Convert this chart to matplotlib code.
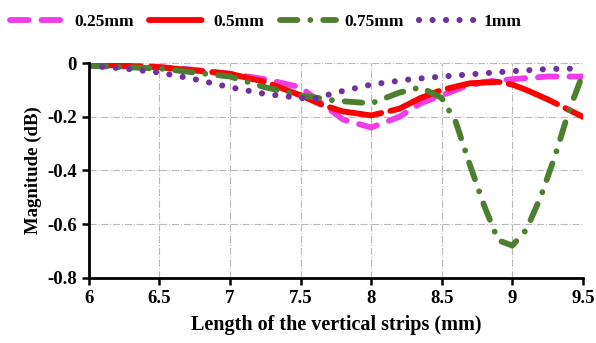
import matplotlib
matplotlib.use("Agg")
import matplotlib.pyplot as plt
from matplotlib.ticker import FuncFormatter

# data
x_025 = [6.0, 6.25, 6.5, 6.75, 7.0, 7.25, 7.5, 7.65, 7.8, 8.0, 8.2, 8.35, 8.5, 8.65, 8.8, 9.0, 9.25, 9.5]
y_025 = [-0.01, -0.012, -0.015, -0.025, -0.04, -0.06, -0.09, -0.15, -0.21, -0.24, -0.2, -0.15,
         -0.12, -0.09, -0.07, -0.06, -0.05, -0.05]

x_05 = [6.0, 6.5, 7.0, 7.25, 7.5, 7.65, 7.8, 8.0, 8.2, 8.35, 8.5, 8.7, 8.9, 9.0, 9.1, 9.25, 9.5]
y_05 = [-0.005, -0.015, -0.04, -0.07, -0.12, -0.155, -0.18, -0.195, -0.17, -0.13, -0.1,
        -0.075, -0.07, -0.08, -0.1, -0.135, -0.2]

x_075 = [6.0, 6.5, 7.0, 7.25, 7.5, 7.75, 8.0, 8.2, 8.35, 8.5, 8.6, 8.7, 8.8, 8.9, 9.0, 9.1,
         9.2, 9.3, 9.4, 9.5]
y_075 = [-0.01, -0.02, -0.05, -0.09, -0.12, -0.14, -0.15, -0.11, -0.09, -0.13, -0.22, -0.38,
         -0.53, -0.66, -0.68, -0.62, -0.5, -0.35, -0.18, -0.04]

x_1 = [6.0, 6.25, 6.5, 6.75, 7.0, 7.25, 7.5, 7.6, 7.75, 8.0, 8.25, 8.5, 8.75, 9.0, 9.25, 9.5]
y_1 = [-0.01, -0.02, -0.035, -0.06, -0.09, -0.115, -0.13, -0.132, -0.11, -0.08, -0.062, -0.05,
       -0.04, -0.03, -0.022, -0.02]

x_ticks = [6, 6.5, 7, 7.5, 8, 8.5, 9, 9.5]
y_ticks = [0, -0.2, -0.4, -0.6, -0.8]

plt.rcParams["font.family"] = ["Liberation Serif", "DejaVu Serif"]
plt.rcParams["font.weight"] = "bold"

fig = plt.figure(figsize=(5.96, 3.43), dpi=100)
ax = fig.add_axes([0.149, 0.19, 0.829, 0.626])

lw = 4.2
ax.plot(x_025, y_025, color="#f03ce6", lw=lw, dashes=(3.2, 2.2),
        dash_capstyle="round", label="0.25mm")
ax.plot(x_05, y_05, color="#ff0000", lw=lw, dashes=(9, 1.6),
        dash_capstyle="round", label="0.5mm")
ax.plot(x_075, y_075, color="#4e7f2e", lw=lw, dashes=(3.0, 2.2, 0.01, 2.2),
        dash_capstyle="round", label="0.75mm")
ax.plot(x_1, y_1, color="#7030a0", lw=4.4, dashes=(0.01, 2.2),
        dash_capstyle="round", label="1mm")

ax.set_xlim(6, 9.5)
ax.set_ylim(-0.8, 0)
ax.set_xticks(x_ticks)
ax.set_yticks(y_ticks)
ax.xaxis.set_major_formatter(FuncFormatter(lambda v, p: f"{v:g}"))
ax.yaxis.set_major_formatter(FuncFormatter(lambda v, p: "0" if abs(v) < 1e-9 else f"{v:.1f}"))
ax.tick_params(labelsize=13.5, width=1.8, length=5, direction="out")

ax.grid(True, color="#b8b8b8", linestyle="-.", linewidth=0.8)
ax.set_axisbelow(True)
for s in ["top", "right"]:
    ax.spines[s].set_visible(False)
for s in ["left", "bottom"]:
    ax.spines[s].set_linewidth(2)

ax.set_xlabel("Length of the vertical strips (mm)", fontsize=14.5, fontweight="bold", labelpad=6)
ax.set_ylabel("Magnitude (dB)", fontsize=13.5, fontweight="bold")

fig.legend(loc="upper center", bbox_to_anchor=(0.446, 1.005), ncol=4, frameon=False,
           fontsize=12.5, handlelength=3.2, columnspacing=0.9, handletextpad=0.5)

fig.savefig("out.png", dpi=100)
